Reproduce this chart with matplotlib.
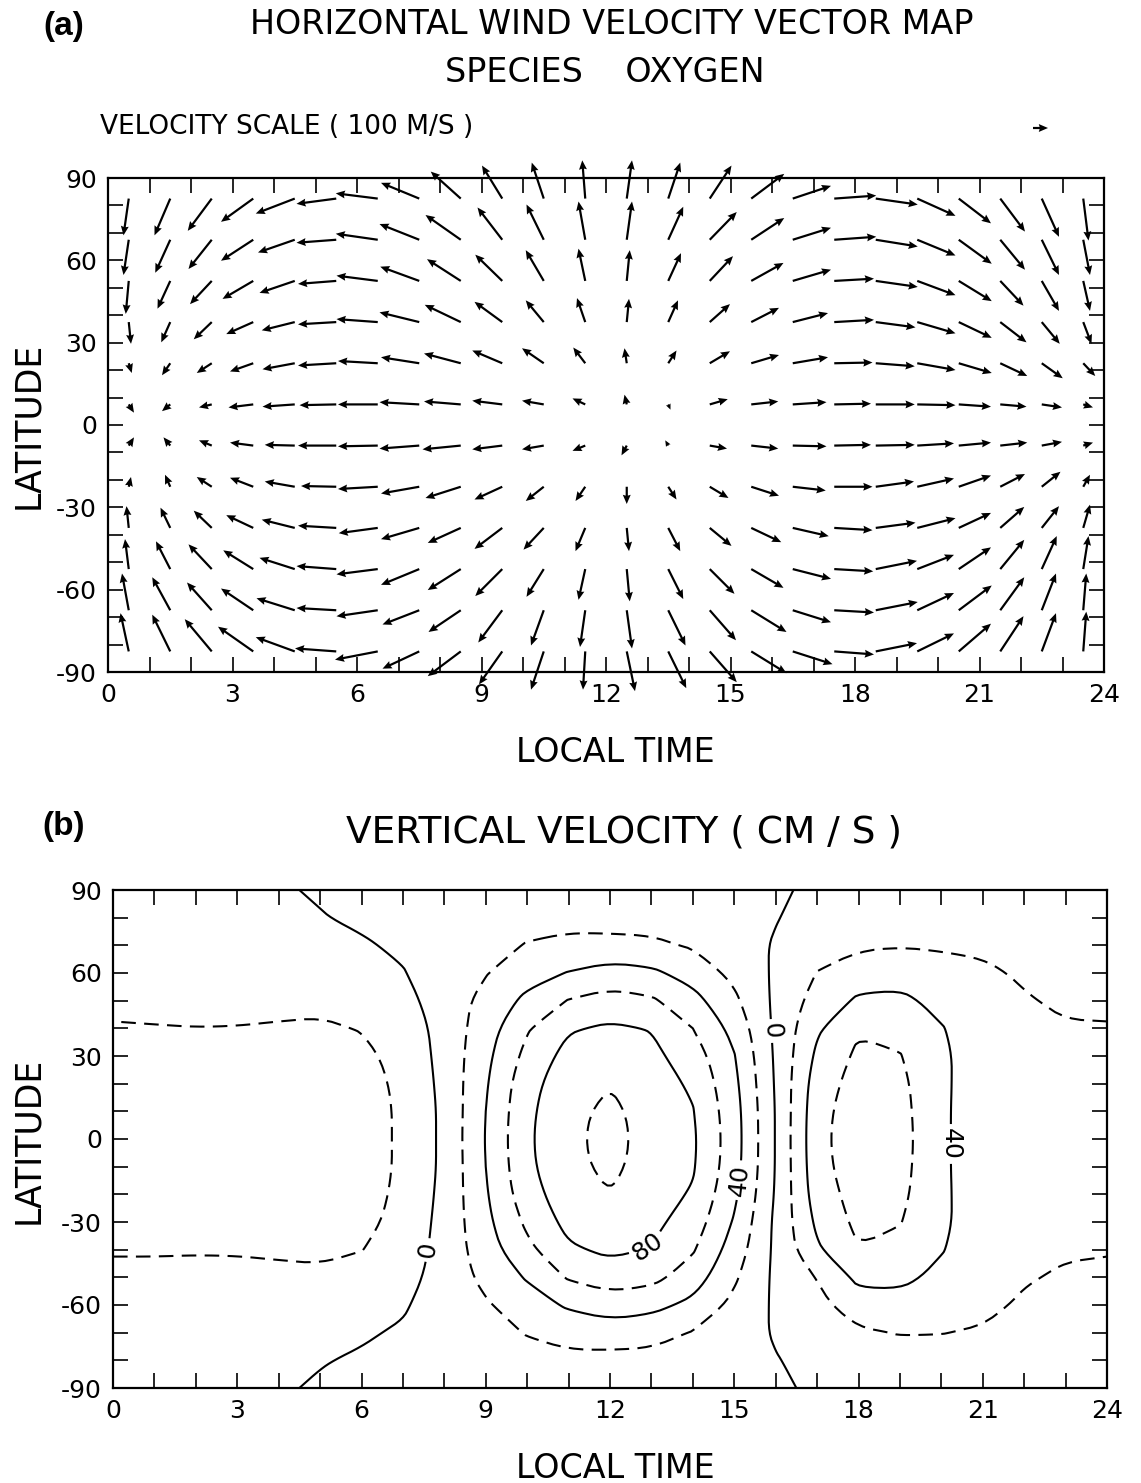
import numpy as np
import matplotlib
matplotlib.use('Agg')
import matplotlib.pyplot as plt
from matplotlib.path import Path

plt.rcParams['font.family'] = ['DejaVu Sans']
plt.rcParams['axes.unicode_minus'] = False

# -------- data -------- #

# (a) horizontal wind, arrow tails at LT k+0.5, rows from 82.5N down to 82.5S (m/s)
wind_lt = np.arange(24) + 0.5
wind_lat = [82.5, 67.5, 52.5, 37.5, 22.5, 7.5, -7.5, -22.5, -37.5, -52.5, -67.5, -82.5]

u_wind = [
    [-35, -105, -160, -215, -260, -265, -280, -255, -200, -135, -80, -20, 35, 80, 145, 220, 255, 280, 280, 255, 215, 165, 115, 35],
    [-35, -100, -155, -215, -245, -265, -280, -265, -235, -165, -115, -45, 35, 100, 180, 220, 255, 280, 280, 255, 220, 165, 115, 45],
    [-20, -85, -145, -205, -235, -255, -275, -260, -225, -180, -120, -45, 20, 85, 155, 215, 255, 265, 280, 255, 220, 155, 115, 45],
    [15, -60, -120, -180, -220, -255, -275, -265, -240, -185, -120, -55, 15, 65, 135, 185, 235, 265, 265, 255, 220, 175, 120, 55],
    [20, -55, -100, -155, -215, -255, -265, -255, -245, -200, -145, -80, -15, 55, 135, 185, 235, 255, 260, 255, 220, 180, 140, 80],
    [35, -55, -85, -165, -215, -245, -265, -265, -245, -200, -145, -85, -15, 15, 120, 180, 225, 245, 260, 255, 215, 175, 135, 65],
    [35, -45, -85, -155, -200, -255, -265, -265, -255, -200, -145, -85, -35, -20, 115, 180, 225, 245, 260, 245, 215, 180, 135, 65],
    [15, -35, -100, -155, -200, -235, -265, -255, -235, -185, -120, -65, 0, 55, 125, 185, 220, 255, 255, 245, 215, 165, 125, 45],
    [-15, -65, -120, -180, -220, -255, -260, -255, -220, -185, -135, -65, 15, 80, 145, 200, 240, 255, 265, 255, 215, 160, 115, 45],
    [-25, -95, -155, -200, -235, -265, -275, -255, -220, -180, -115, -45, 20, 100, 165, 215, 255, 260, 275, 245, 215, 160, 100, 35],
    [-45, -120, -165, -215, -255, -265, -275, -245, -215, -160, -85, -35, 35, 115, 175, 235, 255, 265, 280, 245, 220, 160, 95, 20],
    [-55, -120, -180, -235, -260, -275, -285, -245, -220, -155, -85, -15, 55, 120, 180, 235, 265, 265, 275, 245, 215, 155, 95, 20],
]
v_wind = [
    [-245, -245, -215, -155, -100, -35, 35, 105, 180, 220, 240, 255, 255, 240, 220, 165, 85, 20, -40, -115, -165, -220, -255, -280],
    [-235, -220, -195, -140, -85, -20, 40, 105, 165, 215, 235, 255, 255, 220, 185, 145, 80, 20, -45, -105, -160, -200, -235, -235],
    [-220, -185, -155, -120, -80, -20, 35, 95, 145, 175, 205, 215, 205, 185, 165, 120, 75, 15, -40, -95, -135, -165, -200, -200],
    [-145, -135, -115, -80, -55, -15, 20, 65, 115, 135, 145, 160, 155, 145, 120, 95, 60, 15, -35, -75, -105, -135, -145, -145],
    [-65, -80, -65, -55, -40, -15, 15, 40, 65, 85, 100, 105, 100, 85, 80, 55, 40, 5, -20, -45, -65, -85, -100, -85],
    [-55, -45, -20, -20, -15, -5, 0, 15, 20, 25, 25, 40, 65, -35, 35, 20, 15, 5, 0, -5, -15, -15, -20, -20],
    [55, 55, 35, 20, 5, 0, -5, -20, -25, -25, -25, -35, -65, 35, -20, -20, -5, 5, 5, 15, 20, 20, 25, 20],
    [65, 80, 65, 60, 35, 5, -15, -45, -75, -85, -95, -95, -115, -85, -75, -60, -25, 0, 35, 55, 75, 85, 100, 80],
    [145, 135, 115, 85, 55, 15, -35, -75, -100, -140, -145, -155, -155, -155, -120, -95, -55, -15, 35, 65, 100, 140, 145, 155],
    [200, 185, 165, 125, 75, 20, -35, -105, -140, -180, -185, -205, -215, -200, -165, -125, -65, -15, 55, 95, 145, 195, 220, 220],
    [245, 220, 185, 145, 80, 15, -40, -95, -145, -215, -235, -245, -255, -235, -200, -145, -80, -15, 55, 115, 165, 220, 245, 245],
    [255, 245, 215, 165, 95, 20, -55, -115, -165, -220, -255, -255, -265, -245, -205, -145, -85, -20, 55, 120, 185, 235, 255, 265],
]
ref_speed = 100  # m/s, velocity scale arrow

# (b) vertical velocity (cm/s) on LT 0..24 x lat 90..-90
vv_lt = np.arange(25)
vv_lat = [90, 80, 70, 60, 50, 40, 30, 20, 10, 0, -10, -20, -30, -40, -50, -60, -70, -80, -90]
vv = [
    [-10, -8, -6, -4, -2, 2, 6, 8, 11, 11, 12, 13, 11, 10, 9, 7, 3, -4, -6, -6, -7, -8, -8, -9, -10],
    [-11, -9, -7, -5, -3, -1, 3, 6, 11, 12, 14, 15, 12, 12, 11, 8, 1, -8, -10, -10, -11, -11, -10, -10, -11],
    [-12, -11, -9, -7, -5, -4, -2, 3, 11, 14, 21, 24, 26, 24, 18, 10, -2, -14, -17, -19, -18, -16, -13, -11, -12],
    [-14, -13, -12, -10, -8, -8, -6, -1, 10, 19, 32, 41, 48, 44, 32, 15, -3, -20.5, -31, -33, -27, -24, -17, -13, -14],
    [-17, -17, -16, -15, -14, -15, -12, -6, 9, 26, 45, 61, 68, 63, 47, 24, -4, -28, -43, -44, -35, -29, -22, -16, -17],
    [-21, -20.5, -20.2, -20.5, -22, -23, -19, -11, 7, 31, 58, 78, 83, 79, 60, 34, -4, -37, -58, -54, -41, -31, -26, -22, -21],
    [-25, -25, -25, -25, -26, -27, -25, -13, 6, 35, 66, 87, 92, 85, 70, 41, -3, -44, -64, -61, -43, -31, -28, -26, -25],
    [-27, -27, -27, -27, -28, -29, -29, -15, 5, 38, 73, 92, 99, 89, 77, 45, -2, -50, -68, -65, -43, -31, -29, -28, -27],
    [-28, -28, -28, -28, -29, -30, -31, -16, 4, 40, 76, 94, 105, 91, 81, 48, -1, -53, -71, -67, -43, -30, -29, -28, -28],
    [-28, -28, -28, -28, -29, -30, -31, -16, 4, 41, 77, 95, 107, 92, 83, 49, -1, -54, -72, -68, -43, -30, -29, -28, -28],
    [-28, -28, -28, -28, -29, -30, -31, -16, 4, 40, 76, 94, 105, 91, 82, 48, -1, -53, -71, -67, -43, -30, -29, -28, -28],
    [-27, -27, -27, -27, -28, -29, -29, -15, 5, 38, 72, 91, 99.5, 89, 78, 44, -2, -50, -68, -65, -43, -31, -29, -28, -27],
    [-25, -25, -25, -25, -26, -27, -26, -13, 6, 35, 64, 86, 93, 85, 71, 38, -4, -44, -65, -61, -43, -31, -28, -26, -25],
    [-21, -21, -21, -21.5, -23, -24, -20.5, -11, 7, 31, 55, 77, 84, 79, 62, 31, -4, -37, -59, -54, -41, -31, -26, -22.5, -21],
    [-17, -17, -16, -15, -15, -16, -12, -7, 8, 25, 42, 62, 70, 66, 50, 23, -4, -21, -45, -44, -36, -29, -22, -17, -17],
    [-14, -13, -12, -10, -8, -8, -6, -2, 9, 18, 30, 43, 50, 46, 35, 15, -3, -14, -31, -34, -28, -25, -17, -13, -14],
    [-12, -11, -9, -7, -5, -4, -2, 2, 10, 13, 21, 26, 30, 27, 19, 10, -2, -10, -17, -21, -20.5, -18, -13, -11, -12],
    [-11, -9, -7, -5, -3, -1, 2, 5, 10, 11, 14, 16, 14, 14, 11, 8, 1, -6, -10, -11, -12, -12, -10, -10, -11],
    [-10, -8, -6, -4, -2, 2, 5, 7, 10, 10, 12, 13, 11, 11, 9, 7, 3, -3, -6, -6, -7, -8, -8, -9, -10],
]
solid_levels = [-40, 0, 40, 80]
dashed_levels = [-60, -20, 20, 60, 100]
label_spots = [(7.75, -40.5), (15.85, 39), (15.18, -15), (12.94, -39.7), (20.24, -1.8)]

lt_ticks = list(range(0, 25, 3))
lat_ticks = [-90, -60, -30, 0, 30, 60, 90]

# -------- figure -------- #
W, H = 1141, 1483
fig = plt.figure(figsize=(W / 100, H / 100), dpi=100)


def fx(x):
    return x / W


def fy(y):
    return 1 - y / H


def style_axes(ax):
    ax.set_xlim(0, 24)
    ax.set_ylim(-90, 90)
    ax.set_xticks(lt_ticks)
    ax.set_xticks(range(25), minor=True)
    ax.set_yticks(lat_ticks)
    ax.set_yticks(range(-90, 91, 10), minor=True)
    ax.set_xticklabels([str(t) for t in lt_ticks])
    ax.set_yticklabels([str(t) for t in lat_ticks])
    ax.tick_params(which='both', direction='in', length=11, width=1.2,
                   top=True, right=True, labelsize=18, pad=8)
    for s in ax.spines.values():
        s.set_linewidth(1.6)


def chaikin(pts, closed, n=2):
    # corner cutting, only to round off the polyline look of the contour paths
    for _ in range(n):
        if closed:
            p = pts[:-1]
            nxt = np.roll(p, -1, axis=0)
            new = np.empty((2 * len(p), 2))
            new[0::2] = 0.75 * p + 0.25 * nxt
            new[1::2] = 0.25 * p + 0.75 * nxt
            pts = np.vstack([new, new[:1]])
        else:
            a, b = pts[:-1], pts[1:]
            new = np.empty((2 * len(a), 2))
            new[0::2] = 0.75 * a + 0.25 * b
            new[1::2] = 0.25 * a + 0.75 * b
            pts = np.vstack([pts[:1], new, pts[-1:]])
    return pts


def smooth_contours(cs):
    new_paths = []
    for path in cs.get_paths():
        verts, codes = path.vertices, path.codes
        if len(verts) == 0:
            new_paths.append(path)
            continue
        if codes is None:
            codes = [Path.MOVETO] + [Path.LINETO] * (len(verts) - 1)
        subs, cur = [], []
        for v, c in zip(verts, codes):
            if c == Path.MOVETO:
                if len(cur) > 1:
                    subs.append((np.array(cur), False))
                cur = [v]
            elif c == Path.CLOSEPOLY:
                cur.append(cur[0])
                subs.append((np.array(cur), True))
                cur = []
            else:
                cur.append(v)
        if len(cur) > 1:
            subs.append((np.array(cur), False))
        parts = []
        for pts, closed in subs:
            closed = closed or (len(pts) > 3 and np.allclose(pts[0], pts[-1]))
            sm = chaikin(pts, closed)
            parts.append(Path(sm, closed=closed))
        new_paths.append(Path.make_compound_path(*parts))
    cs._paths = new_paths


# panel (a)
ax_a = fig.add_axes([fx(108), fy(672), (1104 - 108) / W, (672 - 178) / H])
style_axes(ax_a)
LTg, LATg = np.meshgrid(wind_lt, wind_lat)
Q = ax_a.quiver(LTg, LATg, np.array(u_wind), np.array(v_wind),
                angles='uv', pivot='tail', units='dots', width=2.2,
                scale_units='dots', scale=ref_speed / 15,
                headwidth=3.6, headlength=4.2, headaxislength=3.8, color='k')
Q.set_clip_on(False)
ax_a.quiverkey(Q, fx(1033), fy(128), ref_speed, '', coordinates='figure', labelpos='W')

fig.text(fx(64), fy(26), '(a)', fontsize=24, fontweight='bold', family='Liberation Sans',
         ha='center', va='center')
fig.text(fx(612), fy(24), 'HORIZONTAL WIND VELOCITY VECTOR MAP', fontsize=24, ha='center', va='center')
fig.text(fx(605), fy(73), 'SPECIES    OXYGEN', fontsize=24, ha='center', va='center')
fig.text(fx(100), fy(127), 'VELOCITY SCALE ( 100 M/S )', fontsize=19, ha='left', va='center')
fig.text(fx(615), fy(752), 'LOCAL TIME', fontsize=24, ha='center', va='center')
fig.text(fx(28), fy(425), 'LATITUDE', fontsize=25, rotation=90, ha='center', va='center')

# panel (b)
ax_b = fig.add_axes([fx(113), fy(1388), (1107 - 113) / W, (1388 - 890) / H])
style_axes(ax_b)
field = np.array(vv)
cs_dash = ax_b.contour(vv_lt, vv_lat, field, levels=dashed_levels, colors='k',
                       linewidths=1.5, linestyles=[(0, (7, 4))])
cs_solid = ax_b.contour(vv_lt, vv_lat, field, levels=solid_levels, colors='k',
                        linewidths=1.5, linestyles='solid')
smooth_contours(cs_dash)
smooth_contours(cs_solid)
ax_b.clabel(cs_solid, manual=label_spots, inline=True, inline_spacing=4,
            fontsize=18, fmt=lambda v: f'{abs(v):.0f}')

fig.text(fx(64), fy(827), '(b)', fontsize=24, fontweight='bold', family='Liberation Sans',
         ha='center', va='center')
fig.text(fx(624), fy(833), 'VERTICAL VELOCITY ( CM / S )', fontsize=27, ha='center', va='center')
fig.text(fx(615), fy(1468), 'LOCAL TIME', fontsize=24, ha='center', va='center')
fig.text(fx(28), fy(1140), 'LATITUDE', fontsize=25, rotation=90, ha='center', va='center')

fig.savefig('out.png', dpi=100)
